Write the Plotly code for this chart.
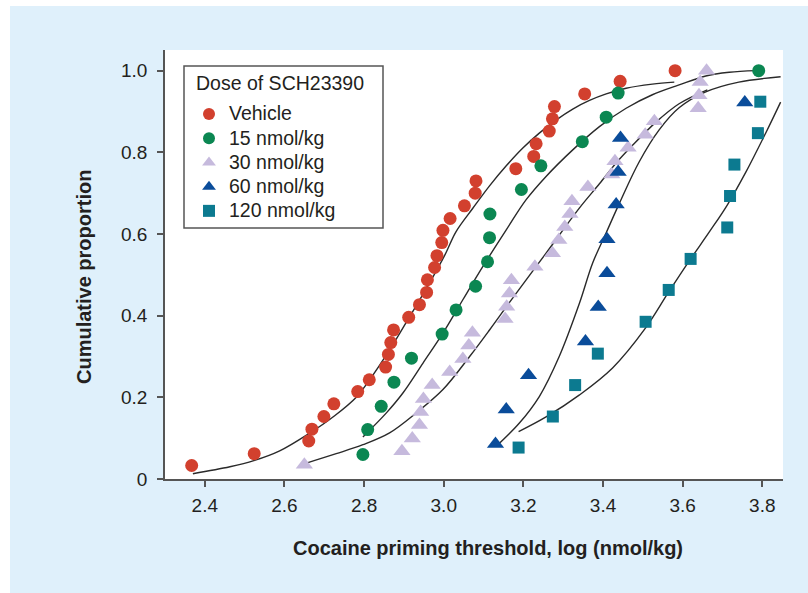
import plotly.graph_objects as go

# ---------------- data ----------------
veh_x = [2.367, 2.524, 2.661, 2.669, 2.699, 2.724, 2.784, 2.813, 2.854, 2.861, 2.867,
         2.874, 2.912, 2.939, 2.957, 2.959, 2.977, 2.983, 2.995, 2.998, 3.016, 3.052,
         3.079, 3.081, 3.181, 3.226, 3.232, 3.265, 3.273, 3.278, 3.354, 3.443, 3.581]
veh_y = [0.033, 0.062, 0.093, 0.122, 0.153, 0.184, 0.214, 0.243, 0.274, 0.305, 0.334,
         0.365, 0.396, 0.427, 0.457, 0.488, 0.518, 0.547, 0.579, 0.609, 0.638, 0.669,
         0.700, 0.730, 0.760, 0.790, 0.821, 0.852, 0.882, 0.912, 0.943, 0.974, 1.0]

d15_x = [2.797, 2.809, 2.843, 2.875, 2.919, 2.996, 3.031, 3.080, 3.110, 3.115, 3.116,
         3.195, 3.244, 3.348, 3.408, 3.438, 3.791]
d15_y = [0.060, 0.121, 0.178, 0.237, 0.296, 0.355, 0.414, 0.472, 0.532, 0.591, 0.649,
         0.709, 0.767, 0.826, 0.886, 0.945, 1.0]

d30_x = [2.650, 2.895, 2.921, 2.939, 2.942, 2.949, 2.971, 3.015, 3.048, 3.063, 3.072,
         3.154, 3.158, 3.165, 3.170, 3.229, 3.273, 3.289, 3.304, 3.317, 3.322, 3.362,
         3.422, 3.430, 3.463, 3.506, 3.529, 3.639, 3.641, 3.644, 3.660]
d30_y = [0.035, 0.068, 0.099, 0.132, 0.164, 0.196, 0.230, 0.262, 0.294, 0.327, 0.358,
         0.392, 0.422, 0.454, 0.487, 0.520, 0.553, 0.585, 0.617, 0.649, 0.680, 0.715,
         0.746, 0.778, 0.811, 0.843, 0.876, 0.908, 0.940, 0.972, 1.0]

d60_x = [3.130, 3.157, 3.213, 3.356, 3.388, 3.410, 3.410, 3.433, 3.438, 3.444, 3.756]
d60_y = [0.086, 0.170, 0.254, 0.337, 0.421, 0.504, 0.587, 0.672, 0.752, 0.835, 0.922]

d120_x = [3.188, 3.274, 3.330, 3.387, 3.507, 3.565, 3.620, 3.712, 3.719, 3.730, 3.789, 3.795]
d120_y = [0.077, 0.153, 0.230, 0.307, 0.385, 0.463, 0.539, 0.616, 0.693, 0.770, 0.847, 0.924]

# fitted curves
veh_fit_x = [2.370, 2.463, 2.523, 2.588, 2.661, 2.726, 2.781, 2.814, 2.864, 2.914, 2.959,
             3.002, 3.031, 3.073, 3.115, 3.157, 3.198, 3.240, 3.282, 3.324, 3.366, 3.408,
             3.458, 3.524, 3.579]
veh_fit_y = [0.013, 0.030, 0.045, 0.069, 0.111, 0.155, 0.201, 0.243, 0.316, 0.397, 0.471,
             0.547, 0.606, 0.663, 0.718, 0.767, 0.810, 0.847, 0.879, 0.906, 0.927, 0.943,
             0.957, 0.967, 0.972]

d15_fit_x = [2.797, 2.856, 2.897, 2.948, 2.998, 3.048, 3.098, 3.157, 3.207, 3.257, 3.324,
             3.391, 3.458, 3.524, 3.591, 3.658, 3.717, 3.784]
d15_fit_y = [0.103, 0.162, 0.210, 0.284, 0.357, 0.439, 0.520, 0.610, 0.684, 0.741, 0.806,
             0.863, 0.908, 0.941, 0.965, 0.987, 0.996, 1.0]

d30_fit_x = [2.655, 2.730, 2.797, 2.864, 2.931, 2.998, 3.065, 3.115, 3.173, 3.257, 3.341,
             3.391, 3.433, 3.473, 3.533, 3.591, 3.662]
d30_fit_y = [0.039, 0.062, 0.084, 0.113, 0.162, 0.219, 0.300, 0.365, 0.443, 0.553, 0.664,
             0.723, 0.774, 0.816, 0.874, 0.919, 0.953]

d60_fit_x = [3.136, 3.190, 3.240, 3.290, 3.341, 3.374, 3.408, 3.441, 3.491, 3.541, 3.591,
             3.658, 3.741, 3.846]
d60_fit_y = [0.084, 0.137, 0.202, 0.300, 0.431, 0.529, 0.603, 0.675, 0.777, 0.855, 0.909,
             0.948, 0.972, 0.985]

d120_fit_x = [3.188, 3.257, 3.341, 3.424, 3.507, 3.565, 3.620, 3.667, 3.712, 3.759, 3.809, 3.846]
d120_fit_y = [0.116, 0.152, 0.206, 0.272, 0.370, 0.458, 0.539, 0.605, 0.671, 0.752, 0.848, 0.923]

names = ["Vehicle", "15 nmol/kg", "30 nmol/kg", "60 nmol/kg", "120 nmol/kg"]
legend_title = "Dose of SCH23390"
x_ticks = [2.4, 2.6, 2.8, 3.0, 3.2, 3.4, 3.6, 3.8]
x_ticktext = ["2.4", "2.6", "2.8", "3.0", "3.2", "3.4", "3.6", "3.8"]
y_ticks = [0, 0.2, 0.4, 0.6, 0.8, 1.0]
y_ticktext = ["0", "0.2", "0.4", "0.6", "0.8", "1.0"]

# ---------------- styling ----------------
colors = ["#d2402e", "#0b8752", "#c6badd", "#0a4c9a", "#0c7a90"]
symbols = ["circle", "circle", "triangle-up", "triangle-up", "square"]
sizes = [13, 13, 15, 15, 12]
FONT = "Liberation Sans, Arial, Helvetica, sans-serif"
TXT = "#231f20"
AX = "#555555"
LEG_TXT = 19.5

fig = go.Figure()

fits = [(veh_fit_x, veh_fit_y), (d15_fit_x, d15_fit_y), (d30_fit_x, d30_fit_y),
        (d60_fit_x, d60_fit_y), (d120_fit_x, d120_fit_y)]
for fx, fy in fits:
    fig.add_trace(go.Scatter(x=fx, y=fy, mode="lines", showlegend=False, hoverinfo="skip",
                             line=dict(color="#2a2a2a", width=1.4, shape="spline", smoothing=1.0)))

pts = [(veh_x, veh_y), (d15_x, d15_y), (d30_x, d30_y), (d60_x, d60_y), (d120_x, d120_y)]
for (px, py), nm, c, s, sz in zip(pts, names, colors, symbols, sizes):
    fig.add_trace(go.Scatter(
        x=px, y=py, mode="markers", cliponaxis=False,
        name=f"<span style='font-size:{LEG_TXT}px'>{nm}</span>",
        marker=dict(color=c, symbol=s, size=sz, line=dict(width=0))))

W, H = 808, 593
L, R, T, B = 165, 25, 50, 114
pw, ph = W - L - R, H - T - B

def px2paper_x(p):
    return (p - L) / pw

def py2paper_y(p):
    return (H - B - p) / ph

fig.update_layout(
    width=W, height=H,
    margin=dict(l=L, r=R, t=T, b=B),
    paper_bgcolor="#dff0fb",
    plot_bgcolor="white",
    font=dict(family=FONT, color=TXT, size=19),
    showlegend=True,
    legend=dict(
        x=px2paper_x(189), y=py2paper_y(97), xanchor="left", yanchor="top",
        bgcolor="rgba(0,0,0,0)", borderwidth=0,
        font=dict(family=FONT, size=16.3, color=TXT),
        itemsizing="constant", tracegroupgap=0,
    ),
    xaxis=dict(
        range=[2.3, 3.852], tickvals=x_ticks, ticktext=x_ticktext,
        showgrid=False, zeroline=False, showline=True, linecolor=AX, linewidth=1.5,
        ticks="outside", ticklen=6, tickwidth=1.5, tickcolor=AX,
        tickfont=dict(family=FONT, size=19, color=TXT), ticklabelstandoff=2,
    ),
    yaxis=dict(
        range=[0, 1.0506], tickvals=y_ticks, ticktext=y_ticktext,
        showgrid=False, zeroline=False, showline=True, linecolor=AX, linewidth=1.5,
        ticks="outside", ticklen=6, tickwidth=1.5, tickcolor=AX,
        tickfont=dict(family=FONT, size=19, color=TXT), ticklabelstandoff=6,
    ),
    shapes=[
        dict(type="rect", xref="paper", yref="paper", layer="below",
             x0=px2paper_x(-5), x1=px2paper_x(W + 5), y0=py2paper_y(6), y1=py2paper_y(-5),
             fillcolor="white", line=dict(width=0)),
        dict(type="rect", xref="paper", yref="paper", layer="below",
             x0=px2paper_x(-5), x1=px2paper_x(10), y0=py2paper_y(H + 5), y1=py2paper_y(-5),
             fillcolor="white", line=dict(width=0)),
        # legend frame
        dict(type="rect", xref="paper", yref="paper", layer="above",
             x0=px2paper_x(184), x1=px2paper_x(383), y0=py2paper_y(228), y1=py2paper_y(66),
             fillcolor="white", line=dict(width=1.5, color=AX)),
    ],
    annotations=[
        dict(text=legend_title, xref="paper", yref="paper",
             x=px2paper_x(194), y=py2paper_y(83), xanchor="left", yanchor="middle",
             showarrow=False, font=dict(family=FONT, size=LEG_TXT, color=TXT)),
        dict(text="<b>Cocaine priming threshold, log (nmol/kg)</b>", xref="paper", yref="paper",
             x=px2paper_x(488), y=py2paper_y(548), xanchor="center", yanchor="middle",
             showarrow=False, font=dict(family=FONT, size=20, color=TXT)),
        dict(text="<b>Cumulative proportion</b>", xref="paper", yref="paper",
             x=px2paper_x(84), y=py2paper_y(277), xanchor="center", yanchor="middle",
             textangle=-90, showarrow=False, font=dict(family=FONT, size=20, color=TXT)),
    ],
)

fig.write_html("out.html", config={"displayModeBar": False},
               post_script="document.body.style.margin='0px';document.body.style.padding='0px';")
